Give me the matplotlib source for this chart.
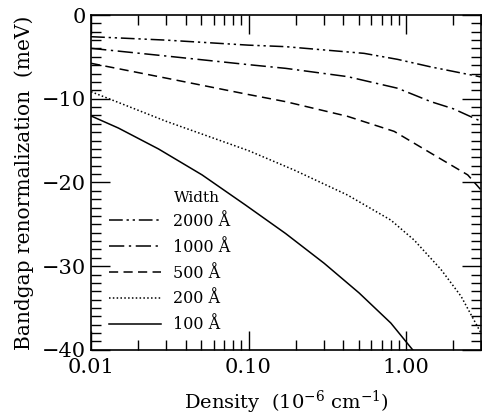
import numpy as np
import matplotlib
matplotlib.use("Agg")
import matplotlib.pyplot as plt
from matplotlib.ticker import FixedLocator, FormatStrFormatter, MultipleLocator

plt.rcParams['font.family'] = ['DejaVu Serif']
plt.rcParams['mathtext.fontset'] = 'dejavuserif'

# density (10^-6 cm^-1) and bandgap renormalization (meV)
dens_2000 = [0.01, 0.03, 0.1, 0.172, 0.542, 0.886, 1.44, 3.0]
bgr_2000 = [-2.59, -3.0, -3.6, -3.78, -4.58, -5.3, -6.2, -7.4]

dens_1000 = [0.01, 0.03, 0.1, 0.172, 0.425, 0.886, 1.44, 2.0, 3.0]
bgr_1000 = [-3.98, -4.9, -5.93, -6.37, -7.36, -8.75, -10.35, -11.2, -12.7]

dens_500 = [0.01, 0.03, 0.1, 0.172, 0.425, 0.842, 1.44, 2.47, 3.0]
bgr_500 = [-5.77, -7.54, -9.5, -10.35, -12.1, -13.9, -16.5, -19.1, -20.9]

dens_200 = [0.01, 0.03, 0.1, 0.194, 0.425, 0.802, 1.13, 1.67, 2.24, 3.0]
bgr_200 = [-9.16, -12.7, -16.2, -18.5, -21.5, -24.5, -26.9, -30.4, -33.6, -38.0]

dens_100 = [0.01, 0.0149, 0.0268, 0.0507, 0.0957, 0.172, 0.302, 0.504, 0.802, 1.104]
bgr_100 = [-12.06, -13.5, -16.0, -19.1, -22.7, -26.1, -29.65, -33.2, -36.8, -40.0]

labels = ["2000 Å", "1000 Å", "500 Å", "200 Å", "100 Å"]

fig = plt.figure(figsize=(4.82, 4.17), dpi=100)
ax = fig.add_axes([0.189, 0.161, 0.809, 0.803])

lw = 1.1
ax.plot(dens_2000, bgr_2000, 'k', lw=lw, ls=(0, (9, 2.5, 1.5, 2.5, 1.5, 2.5)), label=labels[0])
ax.plot(dens_1000, bgr_1000, 'k', lw=lw, ls=(0, (10, 3, 1.5, 3)), label=labels[1])
ax.plot(dens_500, bgr_500, 'k', lw=lw, ls=(0, (6, 3.5)), label=labels[2])
ax.plot(dens_200, bgr_200, 'k', lw=lw, ls=(0, (1, 1.5)), label=labels[3])
ax.plot(dens_100, bgr_100, 'k', lw=lw, ls='-', label=labels[4])

ax.set_xscale('log')
ax.set_xlim(0.01, 3.0)
ax.set_ylim(-40, 0)

ax.xaxis.set_major_locator(FixedLocator([0.01, 0.1, 1.0]))
ax.xaxis.set_major_formatter(FormatStrFormatter('%.2f'))
ax.yaxis.set_major_locator(MultipleLocator(10))
ax.yaxis.set_minor_locator(MultipleLocator(1))
ax.tick_params(which='both', direction='in', top=True, right=True, labelsize=15, width=1)
ax.tick_params(which='major', length=14)
ax.tick_params(which='minor', length=7)
ax.tick_params(axis='x', pad=6)
for s in ax.spines.values():
    s.set_linewidth(1.2)

ax.set_xlabel('Density  (10$^{-6}$ cm$^{-1}$)', fontsize=14, labelpad=8)
ax.set_ylabel('Bandgap renormalization  (meV)', fontsize=14.5, labelpad=6)

leg = ax.legend(loc='lower left', bbox_to_anchor=(0.045, 0.05), frameon=False,
                fontsize=11.5, handlelength=3.3, labelspacing=0.55,
                handletextpad=0.75, borderpad=0, borderaxespad=0)
ax.text(0.213, 0.455, 'Width', transform=ax.transAxes, fontsize=11,
        ha='left', va='center')

fig.savefig("out.png", dpi=100)
